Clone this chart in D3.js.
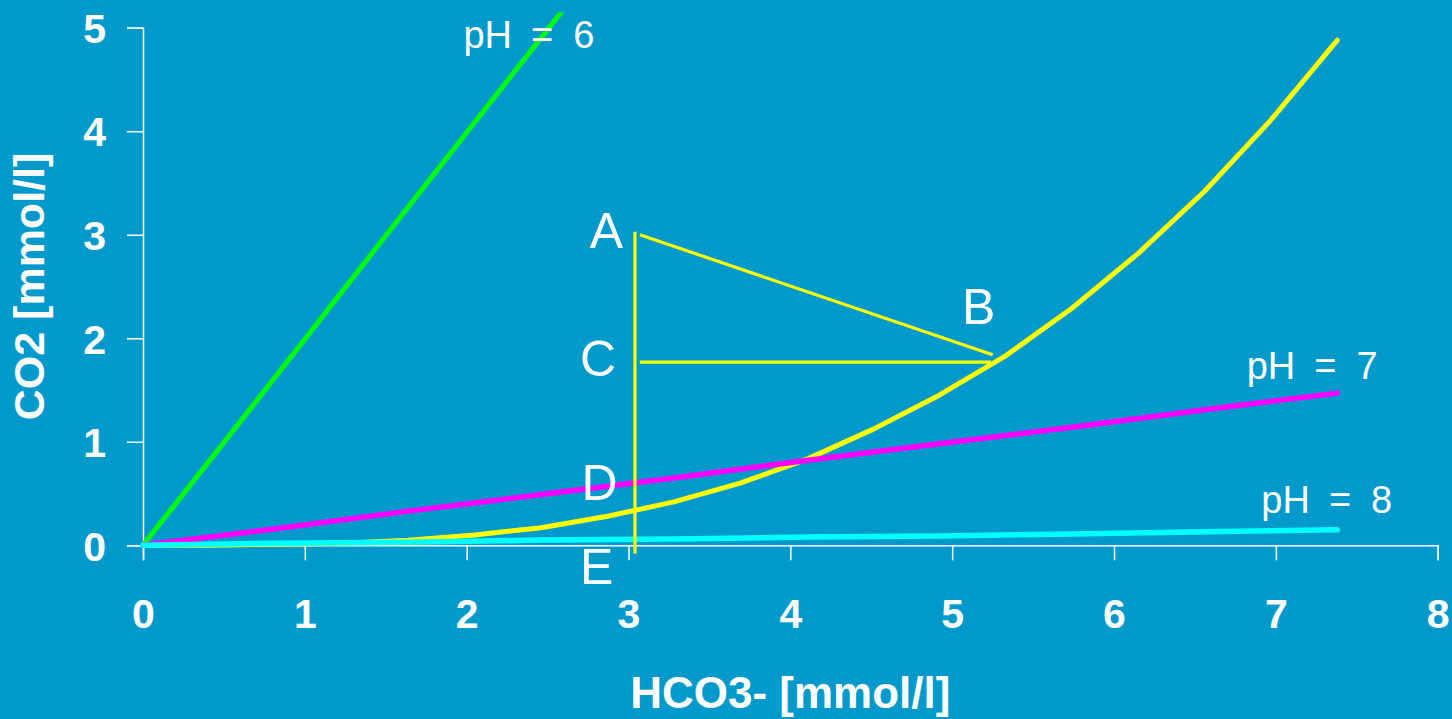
<!DOCTYPE html>
<html>
<head>
<meta charset="utf-8">
<script src="https://cdn.jsdelivr.net/npm/d3@7"></script>
<style>
  html, body { margin: 0; padding: 0; background: #0099cc; }
  svg { display: block; }
</style>
</head>
<body>
<svg id="chart" width="1452" height="719"></svg>
<script>
// ---------- data ----------
const xTicks = [0, 1, 2, 3, 4, 5, 6, 7, 8];
const yTicks = [0, 1, 2, 3, 4, 5];
const xTitle = "HCO3- [mmol/l]";
const yTitle = "CO2 [mmol/l]";

// pH = 6 line (green)
const hco3pH6 = [0, 0.82, 1.64, 2.62];
const co2pH6  = [0, 1.63, 3.27, 5.22];

// pH = 7 (magenta) and pH = 8 (cyan)
const hco3Lines = [0, 0.82, 1.64, 2.46, 3.28, 4.10, 4.92, 5.74, 6.56, 7.38];
const co2pH7    = [0, 0.16, 0.33, 0.49, 0.65, 0.82, 0.98, 1.14, 1.31, 1.47];
const co2pH8    = [0, 0.02, 0.03, 0.05, 0.06, 0.08, 0.09, 0.11, 0.13, 0.15];

// yellow curve
const hco3Curve = [0, 0.41, 0.82, 1.23, 1.64, 2.05, 2.46, 2.87, 3.28, 3.69, 4.10, 4.51, 4.92, 5.33, 5.74, 6.15, 6.56, 6.97, 7.38];
const co2Curve  = [0, 0.00, 0.01, 0.02, 0.05, 0.10, 0.17, 0.28, 0.42, 0.60, 0.83, 1.12, 1.45, 1.83, 2.29, 2.82, 3.42, 4.11, 4.88];

// annotation segments (data coords)
const segStart = [[3.04, 3.03], [3.07, 3.00], [3.07, 1.77]];
const segEnd   = [[3.04, -0.08], [5.25, 1.84], [5.24, 1.77]];

// annotation labels (left edge x, baseline y in data coords)
const letterNames = ["A", "B", "C", "D", "E"];
const letterX     = [2.76, 5.06, 2.70, 2.71, 2.70];
const letterY     = [2.87, 2.14, 1.64, 0.44, -0.37];

const phValues = ["6", "7", "8"];
const phX      = [1.98, 6.82, 6.91];
const phY      = [4.80, 1.61, 0.31];

// ---------- layout ----------
const svg = d3.select("#chart");
const x = d3.scaleLinear().domain([0, 8]).range([143, 1437.7]);
const y = d3.scaleLinear().domain([0, 5]).range([545.3, 27.7]);

svg.append("rect").attr("width", 1452).attr("height", 719).attr("fill", "#0099cc");

svg.append("defs").append("clipPath").attr("id", "clipTop")
  .append("rect").attr("x", 0).attr("y", y(5.15)).attr("width", 1452).attr("height", 719);

// axes
const xAxis = d3.axisBottom(x).tickValues(xTicks).tickFormat(d3.format("d"))
  .tickSize(15).tickPadding(39);
const yAxis = d3.axisLeft(y).tickValues(yTicks).tickFormat(d3.format("d"))
  .tickSize(16).tickPadding(21);

const gx = svg.append("g").attr("transform", `translate(0,${y(0)})`).call(xAxis);
const gy = svg.append("g").attr("transform", `translate(${x(0)},0)`).call(yAxis);

[gx, gy].forEach(g => {
  g.selectAll("path, line").attr("stroke", "#ffffff").attr("stroke-width", 1.5);
  g.selectAll("text").attr("fill", "#ffffff")
    .style("font-family", "'Liberation Sans', Arial, sans-serif")
    .style("font-weight", "bold").style("font-size", "41px");
});
gy.selectAll("text").attr("dy", "0.36em");

// axis titles
svg.append("text")
  .attr("x", (x(0) + x(8)) / 2).attr("y", 708)
  .attr("text-anchor", "middle").attr("fill", "#ffffff")
  .style("font-family", "'Liberation Sans', Arial, sans-serif")
  .style("font-weight", "bold").style("font-size", "44px")
  .text(xTitle);

svg.append("text")
  .attr("transform", `translate(44,${(y(0) + y(5)) / 2}) rotate(-90)`)
  .attr("text-anchor", "middle").attr("fill", "#ffffff")
  .style("font-family", "'Liberation Sans', Arial, sans-serif")
  .style("font-weight", "bold").style("font-size", "43px")
  .text(yTitle);

// lines
const line = d3.line().x(d => x(d[0])).y(d => y(d[1]));
const zip = (a, b) => a.map((v, i) => [v, b[i]]);

svg.append("path").datum(zip(hco3pH6, co2pH6))
  .attr("d", line).attr("fill", "none").attr("stroke", "#00ff00")
  .attr("stroke-width", 5).attr("stroke-linecap", "round").attr("stroke-linejoin", "round")
  .attr("clip-path", "url(#clipTop)");

svg.append("path").datum(zip(hco3Curve, co2Curve))
  .attr("d", line).attr("fill", "none").attr("stroke", "#ffff00")
  .attr("stroke-width", 5).attr("stroke-linecap", "round").attr("stroke-linejoin", "round");

svg.append("path").datum(zip(hco3Lines, co2pH7))
  .attr("d", line).attr("fill", "none").attr("stroke", "#ff00ff")
  .attr("stroke-width", 5.5).attr("stroke-linecap", "round").attr("stroke-linejoin", "round");

svg.append("path").datum(zip(hco3Lines, co2pH8))
  .attr("d", line).attr("fill", "none").attr("stroke", "#00ffff")
  .attr("stroke-width", 5.5).attr("stroke-linecap", "round").attr("stroke-linejoin", "round");

// annotation segments
svg.selectAll("line.seg").data(segStart.map((s, i) => [s, segEnd[i]]))
  .enter().append("line").attr("class", "seg")
  .attr("x1", d => x(d[0][0])).attr("y1", d => y(d[0][1]))
  .attr("x2", d => x(d[1][0])).attr("y2", d => y(d[1][1]))
  .attr("stroke", "#ffff00").attr("stroke-width", 3.2);

// letters
svg.selectAll("text.letter").data(letterNames).enter().append("text")
  .attr("class", "letter")
  .attr("x", (d, i) => x(letterX[i])).attr("y", (d, i) => y(letterY[i]))
  .attr("fill", "#ffffff")
  .style("font-family", "'Liberation Sans', Arial, sans-serif")
  .style("font-size", "50px")
  .text(d => d);

// pH labels
const ph = svg.selectAll("text.ph").data(phValues).enter().append("text")
  .attr("class", "ph")
  .attr("x", (d, i) => x(phX[i])).attr("y", (d, i) => y(phY[i]))
  .attr("fill", "#ffffff")
  .style("font-family", "'Liberation Sans', Arial, sans-serif")
  .style("font-size", "38px");
ph.append("tspan").text("pH");
ph.append("tspan").attr("dx", 19).text("=");
ph.append("tspan").attr("dx", 20).text(d => d);
</script>
</body>
</html>
